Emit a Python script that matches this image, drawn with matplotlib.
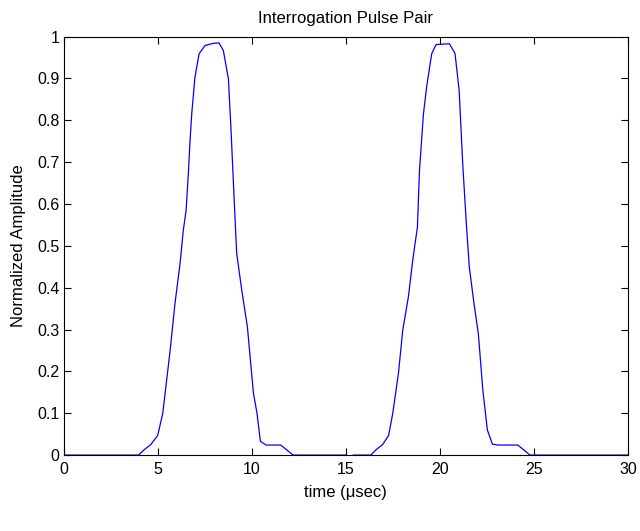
import matplotlib
matplotlib.use("Agg")
import matplotlib.pyplot as plt

# Pulse pair samples (time in usec, normalized amplitude)
t = [0.0, 3.98, 4.3, 4.63, 5.0, 5.27, 5.66, 5.92, 6.19, 6.36, 6.51, 6.63, 6.72,
     6.81, 6.98, 7.2, 7.52, 7.96, 8.26, 8.49, 8.76, 8.9, 9.06, 9.2, 9.47, 9.77,
     10.09, 10.28, 10.46, 10.76, 11.54, 12.2, 15.0, 15.1, 15.3, 15.4, 16.33,
     16.63, 16.96, 17.28, 17.5, 17.8, 18.03, 18.33, 18.56, 18.81, 18.92, 19.13,
     19.31, 19.57, 19.8, 20.51, 20.81, 21.03, 21.22, 21.4, 21.57, 21.82, 22.05,
     22.29, 22.53, 22.8, 23.1, 24.15, 24.8, 30.0]
amp = [0.0, 0.0, 0.0135, 0.025, 0.047, 0.1, 0.25, 0.363, 0.458, 0.537, 0.585,
       0.673, 0.752, 0.816, 0.903, 0.959, 0.979, 0.984, 0.985, 0.967, 0.899,
       0.776, 0.616, 0.482, 0.394, 0.306, 0.148, 0.1, 0.033, 0.024, 0.024, 0.0,
       0.0, -0.003, -0.003, 0.0, 0.0, 0.0135, 0.025, 0.047, 0.1, 0.195, 0.298,
       0.378, 0.465, 0.545, 0.68, 0.815, 0.883, 0.959, 0.981, 0.983, 0.96,
       0.871, 0.696, 0.561, 0.449, 0.362, 0.29, 0.155, 0.06, 0.026, 0.024,
       0.024, 0.0, 0.0]

xticks = [0, 5, 10, 15, 20, 25, 30]
yticks = [0, 0.1, 0.2, 0.3, 0.4, 0.5, 0.6, 0.7, 0.8, 0.9, 1]
ytick_labels = ['0', '0.1', '0.2', '0.3', '0.4', '0.5', '0.6', '0.7', '0.8', '0.9', '1']

plt.rcParams['font.family'] = ['Liberation Sans', 'DejaVu Sans']

fig = plt.figure(figsize=(6.4, 5.31), dpi=100)
ax = fig.add_axes([0.0995, 0.143, 0.8815, 0.788])

ax.plot(t, amp, color='#0000ff', linewidth=0.9)

ax.set_xlim(0, 30)
ax.set_ylim(0, 1)
ax.set_xticks(xticks)
ax.set_xticklabels([str(x) for x in xticks])
ax.set_yticks(yticks)
ax.set_yticklabels(ytick_labels)
ax.tick_params(direction='in', top=True, right=True, length=5, width=0.8,
               labelsize=11.5)
ax.tick_params(axis='x', pad=5)
ax.tick_params(axis='y', pad=3)
for s in ax.spines.values():
    s.set_linewidth(0.8)

ax.set_xlabel('time (\u03bcsec)', fontsize=12, labelpad=6)
ax.set_ylabel('Normalized Amplitude', fontsize=12, labelpad=8)
ax.set_title('Interrogation Pulse Pair', fontsize=12, pad=10)

fig.savefig('out.png', dpi=100)
